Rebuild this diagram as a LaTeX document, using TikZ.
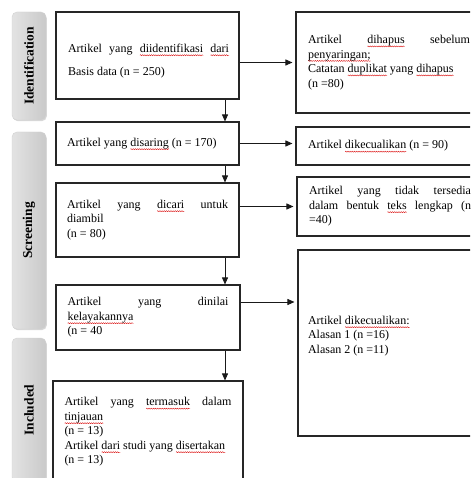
\documentclass[tikz,border=0pt]{standalone}
\usepackage{fontspec}
\setmainfont{Liberation Serif}
\usetikzlibrary{arrows.meta,shadows,decorations.pathmorphing}
\newlength\sqlen
\newcommand\spellsq[1]{\settowidth\sqlen{#1}\rlap{\raisebox{-2.8pt}[0pt][0pt]{\tikz[x=1pt,y=1pt,baseline=0pt]{\draw[red!85!black, line width=0.35pt, decorate, decoration={zigzag, segment length=2.2pt, amplitude=0.55pt}] (0,0) -- (\the\sqlen,0);}}}#1}
\begin{document}
\begin{tikzpicture}[x=1pt,y=-1pt,
  box/.style={draw=black!85, line width=1.1pt, rectangle, inner sep=0pt, align=justify, font=\fontsize{12}{14.5}\selectfont},
  txt/.style={inner sep=0pt, align=justify, font=\fontsize{12}{14.5}\selectfont},
  tab/.style={draw=gray!35, line width=0.4pt, rounded corners=5pt, left color=gray!22, middle color=white, right color=gray!42,
    drop shadow={shadow xshift=0.8pt, shadow yshift=-1.2pt, opacity=0.3, fill=gray}, minimum width=34pt, inner sep=0pt},
  tabtext/.style={rotate=90, inner sep=0pt, font=\fontsize{13.5}{16}\selectfont\bfseries},
  arr/.style={-{Triangle[length=7pt,width=6pt]}, line width=0.8pt, draw=black!90}]
\useasboundingbox (0,0) rectangle (470,478);
\fill[white] (0,0) rectangle (470,478);
\clip (0,0) rectangle (470,478);

% side tabs
\node[tab, minimum height=108pt] (tabid) at (29,66) {};
\node[tabtext] (tid) at (tabid.center) {Identification};
\node[tab, minimum height=197pt] (tabsc) at (29,230.5) {};
\node[tabtext] (tsc) at (tabsc.center) {Screening};
\node[tab, minimum height=144pt] (tabin) at (29,410) {};
\node[tabtext] (tin) at (tabin.center) {Included};

% left column
\node[box, minimum width=183pt, minimum height=87pt] (b1) at (147.5,55.5) {};
\node[txt, text width=161pt, font=\fontsize{12}{23}\selectfont] (t1) at (148.5,61)
  {Artikel yang \spellsq{diidentifikasi} \spellsq{dari}\linebreak Basis data (n = 250)};
\node[box, minimum width=183pt, minimum height=43pt, text width=161pt] (b2) at (147.5,143.5)
  {Artikel yang \spellsq{disaring} (n = 170)};
\node[box, minimum width=183pt, minimum height=74pt, text width=161pt] (b3) at (147.5,220)
  {Artikel yang \spellsq{dicari} untuk\linebreak diambil\\(n = 80)};
\node[box, minimum width=184pt, minimum height=65pt, text width=161pt] (b4) at (148,317.5)
  {Artikel yang dinilai\linebreak \spellsq{kelayakannya}\\(n = 40};
\node[box, minimum width=190pt, minimum height=102pt, text width=167pt] (b5) at (148,432)
  {Artikel yang \spellsq{termasuk} dalam\linebreak \spellsq{tinjauan}\\(n = 13)\\Artikel \spellsq{dari} studi yang \spellsq{disertakan}\\(n = 13)};

% right column
\node[box, minimum width=186pt, minimum height=101pt, text width=162pt] (r1) at (389,62.5)
  {Artikel \spellsq{dihapus} sebelum\linebreak \spellsq{penyaringan;}\\Catatan \spellsq{duplikat} yang \spellsq{dihapus}\\(n =80)};
\node[box, minimum width=186pt, minimum height=38pt, text width=162pt] (r2) at (389,146)
  {Artikel \spellsq{dikecualikan} (n = 90)};
\node[box, minimum width=186pt, minimum height=59pt, text width=162pt] (r3) at (390,206.5)
  {Artikel yang tidak tersedia\linebreak dalam bentuk \spellsq{teks} lengkap (n\linebreak =40)};
\node[box, minimum width=186pt, minimum height=186pt] (r4) at (391,343) {};
\node[txt, text width=162pt] (t4) at (389,336)
  {Artikel \spellsq{dikecualikan:}\\Alasan 1 (n =16)\\Alasan 2 (n =11)};

% connectors
\coordinate (vx) at (225,0);
\draw[arr] (vx |- b1.south) -- (vx |- b2.north);
\draw[arr] (vx |- b2.south) -- (vx |- b3.north);
\draw[arr] (vx |- b3.south) -- (vx |- b4.north);
\draw[arr] (vx |- b4.south) -- (vx |- b5.north);

\draw[arr, shorten >=3pt] (b1.east |- r1.west) -- (r1.west);
\draw[arr, shorten >=3pt] (b2.east) -- (b2.east -| r2.west);
\draw[arr, shorten >=3pt] (b3.east |- r3.west) -- (r3.west);
\coordinate (a4) at (0,302);
\draw[arr, shorten >=3pt] (b4.east |- a4) -- (r4.west |- a4);
\end{tikzpicture}
\end{document}
